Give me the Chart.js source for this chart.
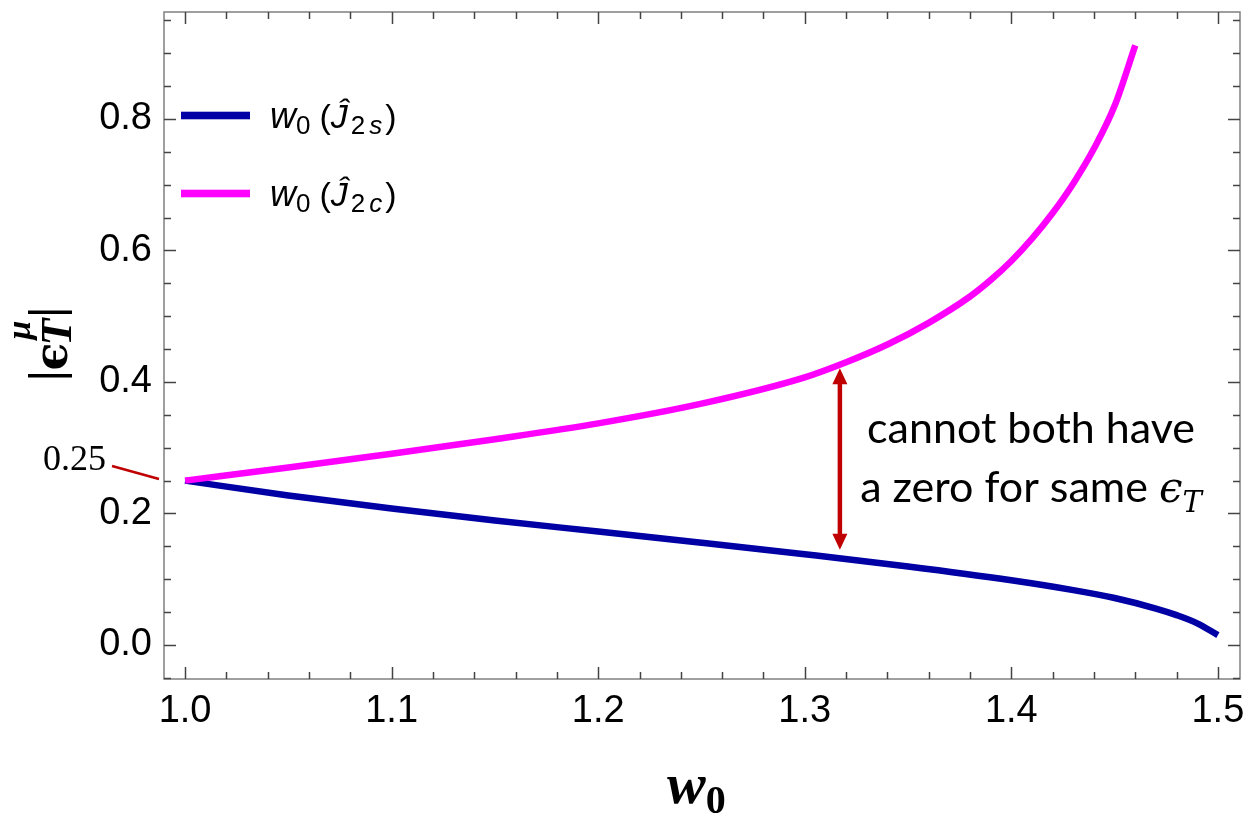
<!DOCTYPE html>
<html>
<head>
<meta charset="utf-8">
<script src="https://cdn.jsdelivr.net/npm/chart.js@4.4.1/dist/chart.umd.min.js"></script>
<style>
  html, body { margin: 0; padding: 0; background: #fff; }
  #wrap { width: 1258px; height: 822px; position: relative; }
</style>
</head>
<body>
<div id="wrap"><canvas id="plot"></canvas></div>
<script>
// curve: w0 (J2s)
const xJ2s = [1.0, 1.05, 1.1, 1.15, 1.2, 1.25, 1.3, 1.35, 1.4, 1.43, 1.45, 1.47, 1.48, 1.49, 1.5];
const yJ2s = [0.250, 0.2275, 0.2075, 0.1895, 0.1725, 0.1555, 0.138, 0.1195, 0.0985, 0.0835, 0.0715, 0.0555, 0.0455, 0.033, 0.015];
// w0 (J2c)
const xJ2c = [1.0, 1.05, 1.1, 1.15, 1.2, 1.25, 1.3, 1.32, 1.34, 1.36, 1.38, 1.39, 1.40, 1.41, 1.42, 1.43, 1.44, 1.45, 1.46];
const yJ2c = [0.250, 0.270, 0.291, 0.313, 0.337, 0.367, 0.407, 0.430, 0.457, 0.490, 0.530, 0.555, 0.584, 0.618, 0.657, 0.702, 0.755, 0.820, 0.912];

const xTicks = [1.0, 1.1, 1.2, 1.3, 1.4, 1.5];
const yTicks = [0.0, 0.2, 0.4, 0.6, 0.8];

// arrow marking the gap between the two curves
const arrowX = 1.317;
const arrowTop = 0.421;
const arrowBottom = 0.145;

const RED = '#c00000';

function toPoints(xs, ys) {
  return xs.map((v, i) => ({ x: v, y: ys[i] }));
}

// draw a run of text pieces one after another
function drawRun(ctx, x, y, pieces) {
  pieces.forEach(p => {
    x += p.gap || 0;
    ctx.font = p.font;
    ctx.fillText(p.t, x, y + (p.dy || 0));
    x += ctx.measureText(p.t).width;
  });
  return x;
}
function runWidth(ctx, pieces) {
  let w = 0;
  pieces.forEach(p => { ctx.font = p.font; w += (p.gap || 0) + ctx.measureText(p.t).width; });
  return w;
}

// Mathematica style frame with ticks pointing inwards
const framePlugin = {
  id: 'frame',
  beforeDatasetsDraw(chart) {
    const { ctx, chartArea: a, scales: { x, y } } = chart;
    ctx.save();
    ctx.strokeStyle = '#808080';
    ctx.lineWidth = 1.5;
    ctx.strokeRect(a.left, a.top, a.right - a.left, a.bottom - a.top);

    ctx.strokeStyle = '#444';
    ctx.lineWidth = 1.5;
    ctx.beginPath();
    for (let i = 0; i <= 25; i++) {
      const px = Math.round(x.getPixelForValue(1 + i * 0.02)) + 0.5;
      const len = i % 5 === 0 ? 12 : 7;
      ctx.moveTo(px, a.bottom); ctx.lineTo(px, a.bottom - len);
      ctx.moveTo(px, a.top); ctx.lineTo(px, a.top + len);
    }
    for (let i = -1; i <= 19; i++) {
      const py = Math.round(y.getPixelForValue(i * 0.05)) + 0.5;
      const len = i % 4 === 0 ? 12 : 7;
      ctx.moveTo(a.left, py); ctx.lineTo(a.left + len, py);
      ctx.moveTo(a.right, py); ctx.lineTo(a.right - len, py);
    }
    ctx.stroke();
    ctx.restore();
  }
};

const notesPlugin = {
  id: 'notes',
  afterDatasetsDraw(chart) {
    const { ctx, scales: { x, y } } = chart;
    ctx.save();
    ctx.textBaseline = 'alphabetic';
    ctx.textAlign = 'left';
    ctx.fillStyle = '#000';

    // legend
    const legend = [
      { color: '#0000a4', sub: 's', py: 115.5 },
      { color: '#ff00ff', sub: 'c', py: 193.5 }
    ];
    legend.forEach(item => {
      ctx.fillStyle = item.color;
      ctx.fillRect(181, item.py - 3.8, 69, 7.6);
      ctx.fillStyle = '#000';
      drawRun(ctx, 270, item.py + 12, [
        { t: 'w', font: 'italic 36px "Liberation Sans"' },
        { t: '0', font: '26px "Liberation Sans"', dy: 6 },
        { t: '(', font: '34px "Liberation Sans"', gap: 9 },
        { t: '\u0134', font: 'italic 34px "Liberation Sans"' },
        { t: '2', font: '26px "Liberation Sans"', dy: 6, gap: 3 },
        { t: item.sub, font: 'italic 26px "Liberation Sans"', dy: 6, gap: 4 },
        { t: ')', font: '34px "Liberation Sans"', gap: 3 }
      ]);
    });

    // double arrow
    const ax = x.getPixelForValue(arrowX);
    const at = y.getPixelForValue(arrowTop);
    const ab = y.getPixelForValue(arrowBottom);
    ctx.strokeStyle = RED;
    ctx.fillStyle = RED;
    ctx.lineWidth = 4.5;
    ctx.beginPath();
    ctx.moveTo(ax, at + 14); ctx.lineTo(ax, ab - 14);
    ctx.stroke();
    ctx.beginPath();
    ctx.moveTo(ax, at); ctx.lineTo(ax - 7.5, at + 16); ctx.lineTo(ax + 7.5, at + 16); ctx.closePath();
    ctx.moveTo(ax, ab); ctx.lineTo(ax - 7.5, ab - 16); ctx.lineTo(ax + 7.5, ab - 16); ctx.closePath();
    ctx.fill();

    // annotation text
    ctx.fillStyle = '#000';
    const line1 = [{ t: 'cannot both have', font: '43px Lato' }];
    drawRun(ctx, 1031 - runWidth(ctx, line1) / 2, 443, line1);
    const line2 = [
      { t: 'a zero for same ', font: '43px Lato' },
      { t: '\u03f5', font: 'italic 42px "DejaVu Serif"' },
      { t: 'T', font: 'italic 29px "DejaVu Serif"', dy: 10 }
    ];
    drawRun(ctx, 1031 - runWidth(ctx, line2) / 2, 502, line2);

    // 0.25 marker at the left edge
    ctx.font = '36px "Liberation Serif"';
    ctx.textAlign = 'right';
    ctx.fillText('0.25', 106, 470);
    ctx.textAlign = 'left';
    ctx.strokeStyle = RED;
    ctx.lineWidth = 2.5;
    ctx.beginPath();
    ctx.moveTo(112, 466); ctx.lineTo(159, 479);
    ctx.stroke();

    // x axis title: w0
    drawRun(ctx, 667, 803, [
      { t: 'w', font: 'italic bold 58px "Liberation Serif"' },
      { t: '0', font: 'bold 40px "Liberation Serif"', dy: 10 }
    ]);

    // y axis title: |eps_T^mu|, rotated
    ctx.save();
    ctx.translate(0, 381);
    ctx.rotate(-Math.PI / 2);
    ctx.font = 'bold 48px "Liberation Serif"';
    ctx.fillText('|', 0, 62);
    let lx = ctx.measureText('|').width;
    ctx.font = 'bold 46px "DejaVu Serif"';
    ctx.fillText('\u03f5', lx, 67);
    lx += ctx.measureText('\u03f5').width;
    ctx.font = 'italic bold 44px "Liberation Serif"';
    ctx.fillText('T', lx - 3, 71);
    const tw = ctx.measureText('T').width;
    ctx.font = 'italic bold 34px "Liberation Serif"';
    ctx.fillText('\u03bc', lx + 3, 30);
    lx += tw - 2;
    ctx.font = 'bold 48px "Liberation Serif"';
    ctx.fillText('|', lx, 62);
    ctx.restore();

    ctx.restore();
  }
};

new Chart(document.getElementById('plot'), {
  type: 'scatter',
  data: {
    datasets: [
      {
        label: 'w0 (J2c)',
        data: toPoints(xJ2c, yJ2c),
        showLine: true,
        borderColor: '#ff00ff',
        borderWidth: 6.5,
        pointRadius: 0,
        cubicInterpolationMode: 'monotone',
        order: 0
      },
      {
        label: 'w0 (J2s)',
        data: toPoints(xJ2s, yJ2s),
        showLine: true,
        borderColor: '#0000a4',
        borderWidth: 6.5,
        pointRadius: 0,
        cubicInterpolationMode: 'monotone',
        order: 1
      }
    ]
  },
  options: {
    responsive: true,
    maintainAspectRatio: false,
    animation: false,
    layout: { padding: { left: 0, right: 18, top: 12, bottom: 0 } },
    plugins: {
      legend: { display: false },
      tooltip: { enabled: false }
    },
    scales: {
      x: {
        type: 'linear',
        min: 0.9898,
        max: 1.5107,
        grid: { display: false, drawTicks: false },
        border: { display: false },
        afterBuildTicks: s => { s.ticks = xTicks.map(v => ({ value: v })); },
        afterFit: s => { s.height = 143; s.paddingLeft = 0; s.paddingRight = 0; },
        ticks: {
          padding: 10,
          color: '#000',
          maxRotation: 0,
          autoSkip: false,
          font: { family: '"Liberation Sans", Arial, sans-serif', size: 38 },
          callback: v => v.toFixed(1)
        }
      },
      y: {
        type: 'linear',
        min: -0.0517,
        max: 0.9627,
        grid: { display: false, drawTicks: false },
        border: { display: false },
        afterBuildTicks: s => { s.ticks = yTicks.map(v => ({ value: v })); },
        afterFit: s => { s.width = 164; s.paddingTop = 0; s.paddingBottom = 0; },
        ticks: {
          padding: 12,
          color: '#000',
          autoSkip: false,
          font: { family: '"Liberation Sans", Arial, sans-serif', size: 38 },
          callback: v => v.toFixed(1)
        }
      }
    }
  },
  plugins: [framePlugin, notesPlugin]
});
</script>
</body>
</html>
